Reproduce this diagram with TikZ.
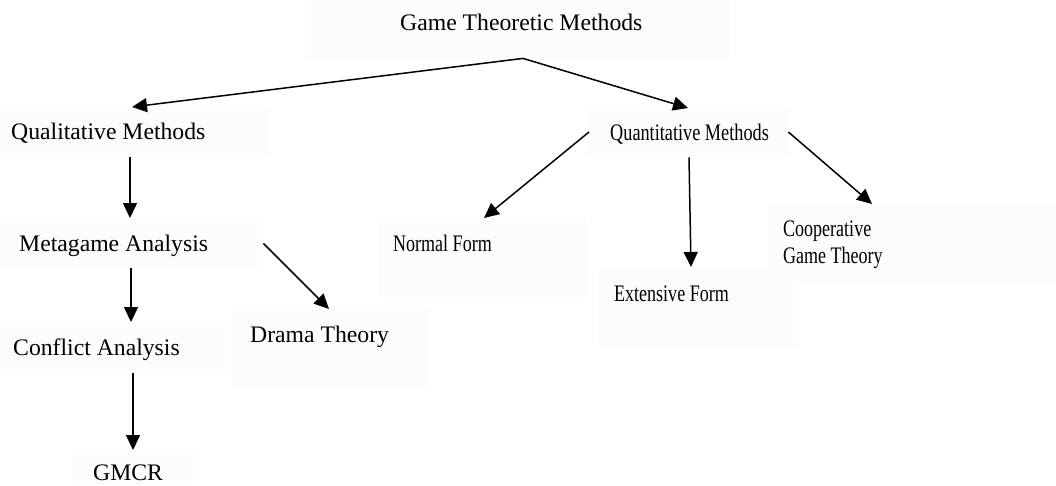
\documentclass[tikz,border=0pt]{standalone}
\usepackage{fontspec}
\setmainfont{Liberation Serif}
\usetikzlibrary{arrows.meta}
\begin{document}
\begin{tikzpicture}[x=1pt,y=1pt,
  bx/.style={rectangle,fill=black!1.2,draw=none,inner sep=0,anchor=north west},
  lbl/.style={inner sep=0,anchor=base west,font=\fontsize{23.7}{27}\selectfont},
  arr/.style={line width=1.5pt,-{Triangle[length=15pt,width=14pt]}}]
\useasboundingbox (0,0) rectangle (1056,-485);
% background boxes
\node[bx,minimum width=425pt,minimum height=58pt] (topb) at (305,0) {};
\node[bx,minimum width=268pt,minimum height=48pt] (qualb) at (0,-109) {};
\node[bx,minimum width=263pt,minimum height=50pt] (metab) at (0,-218) {};
\node[bx,minimum width=230pt,minimum height=51pt] (conflb) at (0,-322) {};
\node[bx,minimum width=196pt,minimum height=77pt] (dramab) at (232,-309) {};
\node[bx,minimum width=121pt,minimum height=35pt] (gmcrb) at (72,-450) {};
\node[bx,minimum width=199pt,minimum height=48pt] (quantb) at (589,-109) {};
\node[bx,minimum width=208pt,minimum height=79pt] (normb) at (379,-218) {};
\node[bx,minimum width=200pt,minimum height=76pt] (extb) at (598,-270) {};
\node[bx,minimum width=288pt,minimum height=78pt] (coopb) at (768,-204) {};
% labels
\node[lbl] (top) at (400,-30) {Game Theoretic Methods};
\node[lbl] (qual) at (11,-139) {Qualitative Methods};
\node[lbl] (meta) at (19,-251) {Metagame Analysis};
\node[lbl] (confl) at (13,-355) {Conflict Analysis};
\node[lbl] (drama) at (250,-342) {Drama Theory};
\node[lbl] (gmcr) at (93,-480) {GMCR};
\node[lbl] (quant) at (610,-140) {\scalebox{0.77}[1]{Quantitative Methods}};
\node[lbl] (norm) at (393,-251) {\scalebox{0.76}[1]{Normal Form}};
\node[lbl] (ext) at (614,-301) {\scalebox{0.76}[1]{Extensive Form}};
\node[lbl,anchor=north west,align=left] (coop) at (783,-220.5) {\scalebox{0.76}[1]{Cooperative}\\\scalebox{0.76}[1]{Game Theory}};
% connectors
\draw[arr] ([xshift=218pt]topb.south west) -- ([xshift=132pt,yshift=2pt]qualb.north west);
\draw[arr] ([xshift=218pt]topb.south west) -- ([xshift=99pt,yshift=1pt]quantb.north west);
\draw[arr] ([xshift=130pt]qualb.south west) -- ([xshift=130pt]metab.north west);
\draw[arr] ([xshift=131pt]metab.south west) -- ([xshift=131pt]conflb.north west);
\draw[arr] ([yshift=25pt]metab.south east) -- ([xshift=97pt]dramab.north west);
\draw[arr] ([xshift=133pt]conflb.south west) -- ([xshift=61pt]gmcrb.north west);
\draw[arr] ([yshift=-23pt]quantb.north west) -- ([xshift=105pt]normb.north west);
\draw[arr] ([xshift=100pt]quantb.south west) -- ([xshift=93pt,yshift=3pt]extb.north west);
\draw[arr] ([yshift=-23pt]quantb.north east) -- ([xshift=104pt]coopb.north west);
\end{tikzpicture}
\end{document}
